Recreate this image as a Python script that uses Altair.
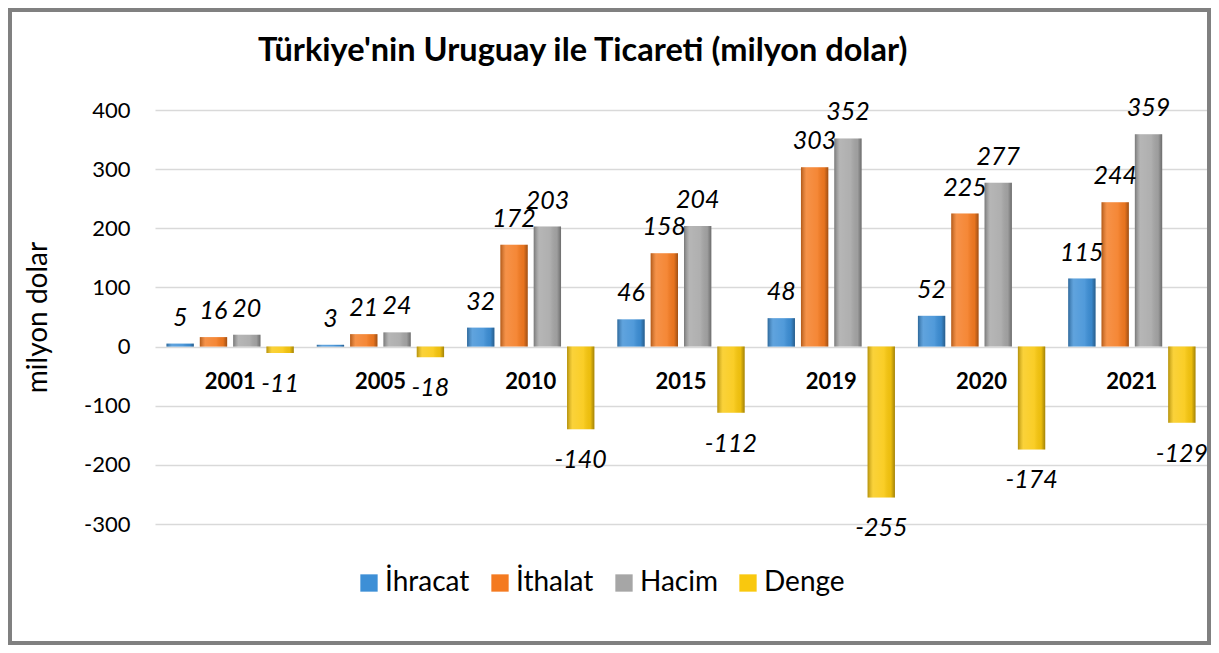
import altair as alt
import pandas as pd

# ---- data ----
years = ["2001", "2005", "2010", "2015", "2019", "2020", "2021"]
series = ["İhracat", "İthalat", "Hacim", "Denge"]
ihracat = [5, 3, 32, 46, 48, 52, 115]
ithalat = [16, 21, 172, 158, 303, 225, 244]
hacim = [20, 24, 203, 204, 352, 277, 359]
denge = [-11, -18, -140, -112, -255, -174, -129]
colors = ["#3d8fd6", "#f47a20", "#a6a6a6", "#f9c80e"]
y_ticks = [-300, -200, -100, 0, 100, 200, 300, 400]

rows = []
for i, yr in enumerate(years):
    for s, vals in zip(series, [ihracat, ithalat, hacim, denge]):
        rows.append({"year": yr, "series": s, "value": vals[i], "label": str(vals[i])})
df = pd.DataFrame(rows)

W, H = 1052, 414
FONT = "Lato"

x_enc = alt.X("year:N", sort=years, axis=None,
              scale=alt.Scale(paddingInner=0.153, paddingOuter=0.0765))
xo_enc = alt.XOffset("series:N", sort=series,
                     scale=alt.Scale(domain=series, paddingInner=0.18, paddingOuter=0))
y_enc = alt.Y("value:Q",
              scale=alt.Scale(domain=[-300, 400], nice=False),
              axis=alt.Axis(values=y_ticks, title="milyon dolar", grid=True,
                            gridColor="#d9d9d9", gridWidth=1.5, domain=False,
                            ticks=False, labelFontSize=22, labelPadding=25,
                            labelExpr="'' + datum.value",
                            labelColor="#000000", labelFont=FONT,
                            titleFont=FONT, titleFontSize=28, titleFontWeight="normal",
                            titleColor="#000000", titleX=-109, titleBaseline="alphabetic"))

base = alt.Chart(df)

bars = base.mark_bar().encode(
    x=x_enc, xOffset=xo_enc, y=y_enc,
    color=alt.Color("series:N", sort=series,
                    scale=alt.Scale(domain=series, range=colors),
                    legend=alt.Legend(title=None, orient="none", direction="horizontal",
                                      legendX=200, legendY=459,
                                      symbolType="square", symbolSize=300,
                                      symbolStrokeWidth=0, labelFontSize=28,
                                      labelFont=FONT, labelColor="#000000",
                                      labelOffset=2, columnPadding=16)),
)

shade = base.mark_bar(
    fill=alt.Gradient(
        gradient="linear", x1=0, x2=1, y1=0, y2=0,
        stops=[
            alt.GradientStop(color="rgba(0,0,0,0.28)", offset=0),
            alt.GradientStop(color="rgba(255,255,255,0.18)", offset=0.2),
            alt.GradientStop(color="rgba(255,255,255,0.10)", offset=0.6),
            alt.GradientStop(color="rgba(0,0,0,0.05)", offset=0.85),
            alt.GradientStop(color="rgba(0,0,0,0.35)", offset=1),
        ],
    )
).encode(x=x_enc, xOffset=xo_enc, y="value:Q")

lbl_pos = base.transform_filter(alt.datum.value >= 0).mark_text(
    font=FONT, fontSize=25, fontStyle="italic", color="#000000", dy=-26
).encode(x=x_enc, xOffset=xo_enc, y="value:Q", text="label:N")

lbl_neg = base.transform_filter(alt.datum.value < 0).mark_text(
    font=FONT, fontSize=25, fontStyle="italic", color="#000000", dy=31
).encode(x=x_enc, xOffset=xo_enc, y="value:Q", text="label:N")

year_lbl = base.transform_filter(alt.datum.series == series[0]).mark_text(
    font=FONT, fontSize=22, fontWeight="bold", color="#000000", dy=35
).encode(x=x_enc, y=alt.datum(0), text="year:N")

frame = alt.Chart(pd.DataFrame({"a": [0]})).mark_rect(
    filled=False, stroke="#808080", strokeWidth=4, clip=False
).encode(x=alt.value(-145), x2=alt.value(1054), y=alt.value(-100), y2=alt.value(533))

chart = alt.layer(frame, bars, shade, lbl_pos, lbl_neg, year_lbl).properties(
    width=W, height=H,
    title=alt.TitleParams("Türkiye'nin Uruguay ile Ticareti (milyon dolar)",
                          anchor="start", frame="group", dx=103, offset=-59,
                          font=FONT, fontSize=32.5, fontWeight="bold", color="#000000"),
    autosize=alt.AutoSizeParams(type="none"),
    padding={"left": 147, "top": 102, "right": 4, "bottom": 121},
    background="#ffffff",
).configure_view(stroke=None)

chart.save("out.html", embed_options={"renderer": "svg", "actions": False})
